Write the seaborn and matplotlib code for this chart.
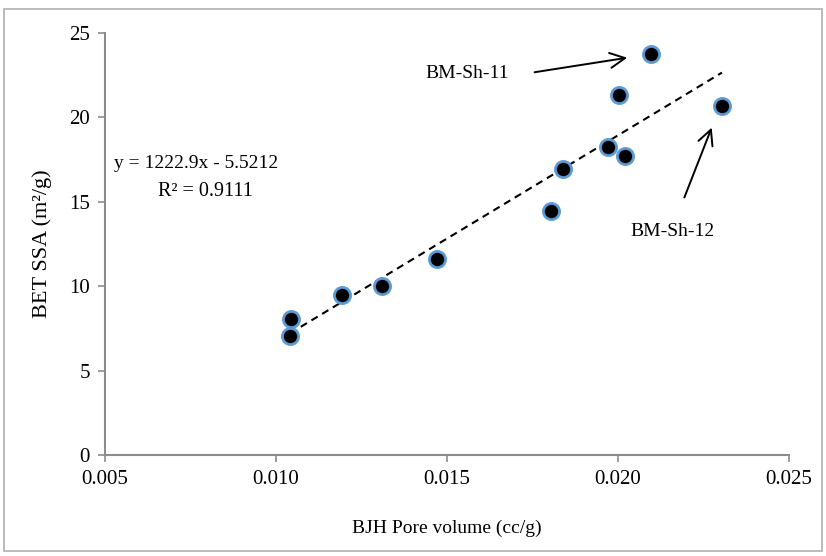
import matplotlib
matplotlib.use("Agg")
import matplotlib.pyplot as plt
import seaborn as sns
import pandas as pd
import numpy as np
from matplotlib.patches import Rectangle

# Data
pore_volume = [0.01041, 0.01043, 0.01194, 0.01311, 0.01471, 0.01803, 0.01838,
               0.01972, 0.02020, 0.02003, 0.02096, 0.02304]
bet_ssa = [7.05, 8.06, 9.48, 10.0, 11.6, 14.47, 16.92,
           18.27, 17.71, 21.31, 23.74, 20.68]
slope = 1222.9
intercept = -5.5212
r_squared = 0.9111
x_ticks = [0.005, 0.010, 0.015, 0.020, 0.025]
y_ticks = [0, 5, 10, 15, 20, 25]
label_11 = "BM-Sh-11"
label_12 = "BM-Sh-12"

df = pd.DataFrame({"pv": pore_volume, "ssa": bet_ssa})

sns.set_theme(style="white")
plt.rcParams["font.family"] = ["Liberation Serif", "DejaVu Serif"]
plt.rcParams["text.color"] = "black"
plt.rcParams["axes.labelcolor"] = "black"
plt.rcParams["xtick.labelcolor"] = "black"
plt.rcParams["ytick.labelcolor"] = "black"

fig = plt.figure(figsize=(8.26, 5.56), dpi=100)
ax = fig.add_axes([105/826, 1-455/556, (789-105)/826, (455-33)/556])

# trendline from the stated fit
xl = np.array([min(pore_volume), max(pore_volume)])
sns.lineplot(x=xl, y=slope*xl + intercept, ax=ax, color="black",
             linestyle=(0, (3.5, 2.5)), linewidth=1.5)

sns.scatterplot(data=df, x="pv", y="ssa", ax=ax, s=135, color="black",
                edgecolor="#5b9bd5", linewidth=2.0, zorder=3)

ax.set_xlim(0.005, 0.025)
ax.set_ylim(0, 25)
ax.set_xticks(x_ticks)
ax.set_xticklabels([f"{t:.3f}" for t in x_ticks])
ax.set_yticks(y_ticks)
ax.set_yticklabels([str(t) for t in y_ticks])
for s in ["top", "right"]:
    ax.spines[s].set_visible(False)
for s in ["left", "bottom"]:
    ax.spines[s].set_color("#8c8c8c")
    ax.spines[s].set_linewidth(1.5)
ax.tick_params(axis="both", direction="out", length=5, width=1.2,
               color="#8c8c8c", labelsize=15, pad=6, left=True, bottom=True,
               labelcolor="black")

ax.set_xlabel("BJH Pore volume (cc/g)", fontsize=14, labelpad=22)
ax.set_ylabel("BET SSA (m²/g)", fontsize=16, labelpad=12)

ax.text(0.00766, 17.25, f"y = {slope}x - {abs(intercept)}", fontsize=14,
        ha="center", va="center")
ax.text(0.00794, 15.6, f"R² = {r_squared}", fontsize=14.5, ha="center", va="center")

arrow = dict(arrowstyle="->,head_length=0.9,head_width=0.45", color="black", lw=1.4)
ax.annotate("", xy=(0.02035, 23.56), xytext=(0.01748, 22.65), arrowprops=arrow)
ax.text(0.01558, 22.63, label_11, fontsize=14, ha="center", va="center")
ax.annotate("", xy=(0.02277, 19.55), xytext=(0.02191, 15.1), arrowprops=arrow)
ax.text(0.02159, 13.23, label_12, fontsize=14, ha="center", va="center")

fig.patches.append(Rectangle((4/826, 5/556), 818/826, 542/556,
                             transform=fig.transFigure, fill=False,
                             edgecolor="#b0b0b0", linewidth=1.2))

fig.savefig("out.png", dpi=100)
